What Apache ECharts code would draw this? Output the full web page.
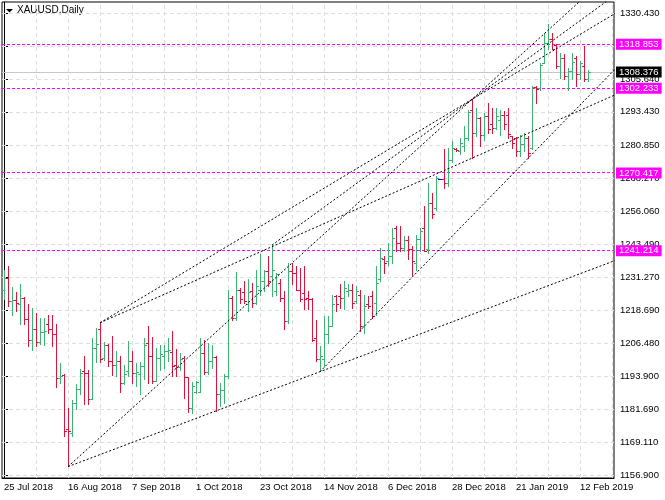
<!DOCTYPE html>
<html>
<head>
<meta charset="utf-8">
<script src="https://cdn.jsdelivr.net/npm/echarts@6/dist/echarts.min.js"></script>
<style>
    html, body { margin: 0; padding: 0; background: #fff; }
    #chart { width: 665px; height: 500px; }
</style>
</head>
<body>
<div id="chart"></div>
<script>
// daily XAUUSD bars, 25 Jul 2018 .. 14 Feb 2019 (weekdays)
var opens = [1226.4, 1230.8, 1222.0, 1222.5, 1220.8, 1223.3, 1215.4, 1207.3, 1211.6, 1206.6,
    1210.4, 1213.6, 1211.4, 1209.5, 1193.2, 1194.1, 1173.8, 1172.5, 1183.6, 1189.1,
    1195.7, 1195.1, 1185.1, 1204.5, 1211.4, 1200.7, 1205.7, 1199.5, 1198.2, 1199.5,
    1191.1, 1195.7, 1199.5, 1194.9, 1194.8, 1197.6, 1206.4, 1201.4, 1192.0, 1200.7,
    1201.4, 1203.2, 1202.9, 1198.2, 1197.4, 1200.7, 1193.6, 1181.9, 1187.8, 1187.8,
    1202.6, 1195.3, 1199.5, 1201.1, 1187.0, 1188.8, 1193.8, 1223.3, 1215.8, 1226.4,
    1225.4, 1220.8, 1225.8, 1221.4, 1226.4, 1229.6, 1233.3, 1231.4, 1225.8, 1229.0,
    1223.3, 1214.5, 1233.3, 1232.7, 1226.4, 1225.2, 1223.3, 1222.7, 1208.0, 1200.1,
    1200.1, 1209.5, 1212.6, 1223.9, 1223.9, 1223.3, 1225.8, 1226.4, 1222.0, 1224.5,
    1212.6, 1221.0, 1223.9, 1221.4, 1230.2, 1237.7, 1237.1, 1239.0, 1249.4, 1243.9,
    1242.1, 1245.2, 1241.5, 1236.4, 1245.5, 1249.6, 1241.5, 1259.0, 1257.1, 1268.0,
    1267.8, 1266.3, 1275.3, 1279.3, 1278.6, 1280.5, 1283.5, 1294.0, 1285.3, 1291.0,
    1284.7, 1291.6, 1288.5, 1287.2, 1290.3, 1292.2, 1292.2, 1284.1, 1283.5, 1278.4,
    1281.0, 1283.5, 1279.5, 1302.6, 1302.3, 1311.6, 1319.2, 1320.7, 1318.5, 1310.4,
    1313.5, 1306.6, 1308.5, 1313.5, 1307.3, 1310.4, 1305.4];
var highs = [1233.9, 1235.2, 1227.3, 1225.4, 1228.3, 1223.6, 1220.8, 1219.5, 1217.4, 1215.8,
    1215.8, 1217.0, 1217.0, 1213.6, 1198.6, 1194.5, 1181.9, 1184.8, 1190.7, 1196.6,
    1201.4, 1196.3, 1208.3, 1212.0, 1214.1, 1206.6, 1205.9, 1208.9, 1203.2, 1201.4,
    1198.2, 1207.0, 1203.2, 1198.8, 1199.1, 1208.3, 1212.6, 1208.6, 1204.5, 1205.7,
    1205.7, 1208.3, 1210.8, 1203.9, 1202.6, 1201.4, 1193.6, 1191.6, 1192.0, 1208.3,
    1207.6, 1206.4, 1205.7, 1201.4, 1191.3, 1194.5, 1226.4, 1223.9, 1232.9, 1227.0,
    1229.6, 1230.2, 1228.9, 1233.9, 1239.6, 1233.9, 1238.9, 1243.3, 1232.7, 1230.2,
    1225.8, 1236.4, 1236.4, 1235.2, 1234.6, 1235.2, 1225.8, 1223.3, 1215.1, 1205.1,
    1216.4, 1216.4, 1224.5, 1224.5, 1228.3, 1229.6, 1228.3, 1228.3, 1227.7, 1226.4,
    1224.5, 1223.9, 1225.8, 1235.2, 1242.1, 1238.9, 1243.9, 1249.6, 1250.2, 1250.2,
    1246.5, 1246.5, 1242.7, 1247.1, 1249.6, 1257.8, 1266.5, 1262.8, 1269.0, 1268.0,
    1279.1, 1279.5, 1282.2, 1279.5, 1283.5, 1288.0, 1294.1, 1298.1, 1294.7, 1291.3,
    1292.9, 1296.6, 1294.7, 1294.7, 1294.1, 1293.5, 1294.7, 1284.3, 1283.7, 1284.7,
    1285.3, 1284.1, 1303.1, 1302.9, 1311.6, 1322.9, 1326.1, 1322.9, 1318.7, 1315.4,
    1314.8, 1309.8, 1315.4, 1314.2, 1312.3, 1317.9, 1308.9];
var lows = [1222.7, 1220.4, 1216.8, 1218.3, 1213.3, 1213.3, 1205.1, 1203.6, 1205.1, 1206.0,
    1205.7, 1209.9, 1205.1, 1189.8, 1191.3, 1171.3, 1160.0, 1171.3, 1181.3, 1187.0,
    1183.5, 1183.2, 1185.1, 1199.1, 1199.1, 1199.9, 1197.6, 1194.1, 1193.8, 1187.8,
    1190.7, 1193.8, 1191.3, 1190.3, 1187.2, 1192.6, 1191.3, 1191.3, 1192.0, 1196.3,
    1196.9, 1199.5, 1193.8, 1193.8, 1196.3, 1185.7, 1180.3, 1180.1, 1187.6, 1187.8,
    1194.5, 1194.8, 1197.0, 1180.7, 1182.6, 1183.8, 1193.2, 1215.1, 1215.1, 1221.4,
    1221.4, 1218.3, 1219.9, 1220.8, 1224.5, 1225.8, 1227.7, 1224.0, 1224.5, 1222.0,
    1211.4, 1214.0, 1228.3, 1226.4, 1222.0, 1218.9, 1218.9, 1207.0, 1199.5, 1195.7,
    1197.6, 1206.4, 1212.6, 1218.3, 1219.5, 1218.9, 1223.9, 1219.5, 1221.4, 1210.7,
    1210.1, 1219.6, 1215.8, 1217.0, 1229.6, 1232.7, 1235.8, 1236.4, 1240.8, 1240.8,
    1240.8, 1238.0, 1232.0, 1233.9, 1240.8, 1240.8, 1240.2, 1253.4, 1256.5, 1268.0,
    1264.6, 1265.3, 1274.5, 1278.6, 1277.5, 1278.5, 1282.5, 1276.0, 1284.1, 1280.3,
    1282.8, 1285.3, 1285.3, 1286.6, 1284.7, 1286.6, 1283.5, 1279.7, 1276.6, 1276.6,
    1278.4, 1275.9, 1279.1, 1296.4, 1301.6, 1311.4, 1316.7, 1316.7, 1309.8, 1306.0,
    1305.4, 1301.6, 1305.4, 1303.1, 1305.6, 1304.8, 1305.0];
var closes = [1230.8, 1222.0, 1222.5, 1221.4, 1223.3, 1215.4, 1207.3, 1211.6, 1206.6, 1210.4,
    1210.8, 1211.4, 1209.5, 1193.2, 1193.8, 1173.2, 1173.1, 1183.6, 1189.1, 1195.1,
    1195.1, 1185.1, 1204.5, 1206.0, 1200.1, 1205.7, 1199.5, 1198.2, 1199.5, 1191.1,
    1194.5, 1199.5, 1195.1, 1195.3, 1197.6, 1205.7, 1201.4, 1192.0, 1200.7, 1202.0,
    1203.2, 1203.6, 1197.6, 1197.4, 1200.1, 1193.6, 1181.9, 1190.3, 1191.6, 1202.6,
    1195.3, 1199.5, 1201.1, 1187.0, 1188.8, 1193.8, 1223.3, 1215.8, 1226.4, 1222.7,
    1222.0, 1225.4, 1221.4, 1227.7, 1229.6, 1233.3, 1229.6, 1233.9, 1232.1, 1223.3,
    1214.5, 1233.3, 1232.7, 1226.4, 1222.7, 1222.7, 1222.7, 1207.6, 1200.1, 1201.4,
    1209.5, 1212.6, 1220.8, 1220.8, 1223.3, 1227.0, 1226.4, 1221.4, 1225.8, 1212.6,
    1220.2, 1220.2, 1216.4, 1228.9, 1238.3, 1236.4, 1239.0, 1245.8, 1243.9, 1242.1,
    1245.2, 1241.5, 1237.1, 1245.5, 1248.3, 1241.0, 1259.0, 1254.9, 1268.4, 1268.0,
    1266.3, 1275.3, 1279.7, 1278.9, 1281.6, 1283.5, 1293.0, 1285.3, 1291.0, 1284.7,
    1291.6, 1286.6, 1287.2, 1291.6, 1292.2, 1288.5, 1285.0, 1281.6, 1278.4, 1281.0,
    1283.5, 1277.8, 1302.6, 1301.9, 1311.0, 1319.0, 1320.7, 1317.0, 1310.4, 1313.5,
    1306.6, 1308.5, 1312.0, 1307.6, 1311.6, 1305.4, 1308.38];

var priceTicks = [1156.900, 1169.110, 1181.690, 1193.900, 1206.480, 1218.690, 1231.270, 1243.490,
    1256.060, 1268.270, 1280.850, 1293.430, 1305.640, 1318.220, 1330.430];
var levels = [1318.853, 1302.233, 1270.417, 1241.214];
var lastPrice = 1308.376;

// trend lines: [bar1, price1, bar2, price2], drawn as rays to the right
var trendLines = [
    [16, 1160.0, 79, 1195.7],
    [16, 1160.0, 117, 1298.1],
    [24, 1214.1, 117, 1298.1],
    [24, 1214.1, 117, 1276.0],
    [67, 1243.3, 117, 1298.1],
    [79, 1195.7, 131, 1275.9]
];

var SLOTS = 153;      // bars + empty shift on the right
var RAY_END = 160;
var UP = "#3cb371", DOWN = "#dc143c", FLAT = "#0000ff", LEVEL = "#ff00ff";
var FONT = "'Liberation Sans', Arial, sans-serif";

var months = ["Jan", "Feb", "Mar", "Apr", "May", "Jun", "Jul", "Aug", "Sep", "Oct", "Nov", "Dec"];
var categories = [];
var day = new Date(Date.UTC(2018, 6, 25));
while (categories.length < closes.length) {
    var wd = day.getUTCDay();
    if (wd != 0 && wd != 6) {
        categories.push(day.getUTCDate() + " " + months[day.getUTCMonth()] + " " + day.getUTCFullYear());
    }
    day.setUTCDate(day.getUTCDate() + 1);
}
while (categories.length < SLOTS) {
    categories.push("");
}

var vGrid = [];
for (var g = 8; g < SLOTS; g += 8) {
    vGrid.push({xAxis: g});
}

var bars = closes.map(function (c, i) {
    return [i, opens[i], highs[i], lows[i], c];
});

function renderBar(params, api) {
    var i = api.value(0);
    var o = api.value(1), c = api.value(4);
    var po = api.coord([i, o]);
    var ph = api.coord([i, api.value(2)]);
    var pl = api.coord([i, api.value(3)]);
    var pc = api.coord([i, c]);
    var cx = Math.round(po[0]);
    var color = c > o ? UP : (c < o ? DOWN : FLAT);
    var top = Math.floor(ph[1]), bottom = Math.floor(pl[1]) + 1;
    var yo = Math.floor(po[1]), yc = Math.floor(pc[1]);
    return {
        type: "group",
        children: [
            {type: "rect", shape: {x: cx, y: top, width: 1, height: Math.max(1, bottom - top)},
                style: {fill: color}},
            {type: "rect", shape: {x: cx - 2, y: yo, width: 2, height: 1},
                style: {fill: color}},
            {type: "rect", shape: {x: cx + 1, y: yc, width: 2, height: 1},
                style: {fill: color}}
        ]
    };
}

// horizontal level line, kept on an even pixel row so it stays crisp
function renderLevel(params, api) {
    var y = api.coord([0, api.value(1)])[1];
    var row = 2 * Math.round(y / 2) + 0.5;
    var cs = params.coordSys;
    return {
        type: "line",
        shape: {x1: cs.x, y1: row, x2: cs.x + cs.width, y2: row},
        style: {stroke: LEVEL, lineWidth: 1, lineDash: [3, 2]}
    };
}

function priceLabel(bg) {
    return {
        show: true,
        position: "end",
        distance: 2,
        formatter: function (p) {
            return Number(p.value).toFixed(3);
        },
        color: "#fff",
        backgroundColor: bg,
        padding: [1, 3, 0, 3],
        fontSize: 9.5,
        fontFamily: FONT
    };
}

var series = [
    {
        name: "grid",
        type: "line",
        xAxisIndex: 1,
        data: [],
        z: 1,
        silent: true,
        markLine: {
            z: 1,
            silent: true,
            symbol: ["none", "none"],
            precision: 3,
            label: {show: false},
            animation: false,
            lineStyle: {color: "#dedede", type: [4, 3], width: 1},
            data: priceTicks.map(function (v) {
                return {yAxis: v};
            }).concat(vGrid)
        }
    },
    {
        name: "last",
        type: "line",
        xAxisIndex: 1,
        data: [],
        z: 2,
        silent: true,
        markLine: {
            z: 2,
            silent: true,
            symbol: ["none", "none"],
            precision: 3,
            animation: false,
            lineStyle: {color: "#c8c8c8", type: "solid", width: 1},
            label: priceLabel("#000"),
            data: [{yAxis: lastPrice}]
        }
    },
    {
        name: "levelLines",
        type: "custom",
        xAxisIndex: 1,
        renderItem: renderLevel,
        encode: {x: 0, y: 1},
        data: levels.map(function (v) {
            return [0, v];
        }),
        z: 2,
        silent: true,
        animation: false
    },
    {
        name: "levels",
        type: "line",
        xAxisIndex: 1,
        data: [],
        z: 6,
        silent: true,
        markLine: {
            z: 6,
            silent: true,
            symbol: ["none", "none"],
            precision: 3,
            animation: false,
            lineStyle: {color: "transparent", width: 0},
            label: priceLabel(LEVEL),
            data: levels.map(function (v) {
                return {yAxis: v};
            })
        }
    },
    {
        name: "XAUUSD",
        type: "custom",
        xAxisIndex: 1,
        renderItem: renderBar,
        encode: {x: 0, y: [1, 2, 3, 4]},
        data: bars,
        z: 3,
        silent: true,
        animation: false
    }
];

trendLines.forEach(function (t) {
    var slope = (t[3] - t[1]) / (t[2] - t[0]);
    series.push({
        type: "line",
        xAxisIndex: 1,
        data: [[t[0], t[1]], [RAY_END, t[1] + slope * (RAY_END - t[0])]],
        symbol: "none",
        clip: true,
        silent: true,
        z: 4,
        animation: false,
        lineStyle: {color: "#000", width: 1, type: [2, 2]}
    });
});

var chart = echarts.init(document.getElementById("chart"));
chart.setOption({
    animation: false,
    textStyle: {fontFamily: FONT},
    grid: {
        left: 2,
        right: 51,
        top: 2,
        bottom: 22,
        show: true,
        borderColor: "#000",
        borderWidth: 1,
        backgroundColor: "#fff"
    },
    graphic: [
        {type: "polygon", shape: {points: [[6, 9], [13, 9], [9.5, 12.5]]}, style: {fill: "#000"}},
        {type: "text", left: 17, top: 5, style: {text: "XAUUSD,Daily", font: "10px " + FONT, fill: "#000"}}
    ],
    xAxis: [
        {
            type: "category",
            data: categories,
            boundaryGap: true,
            axisLine: {lineStyle: {color: "#000"}},
            axisTick: {interval: 15, alignWithLabel: true, length: 3, lineStyle: {color: "#000"}},
            axisLabel: {interval: 15, align: "left", margin: 4, fontSize: 9.5, color: "#000", fontFamily: FONT},
            splitLine: {show: false}
        },
        {
            type: "value",
            min: -0.5,
            max: SLOTS - 0.5,
            show: false,
            splitLine: {show: false}
        }
    ],
    yAxis: {
        type: "value",
        position: "right",
        min: 1155.73,
        max: 1334.71,
        scale: true,
        axisLine: {show: true, lineStyle: {color: "#000"}},
        axisTick: {show: true, length: 4, customValues: priceTicks, lineStyle: {color: "#000"}},
        axisLabel: {
            customValues: priceTicks,
            margin: 6,
            fontSize: 9.5,
            color: "#000",
            fontFamily: FONT,
            formatter: function (v) {
                return Number(v).toFixed(3);
            }
        },
        splitLine: {show: false}
    },
    series: series
});
</script>
</body>
</html>
